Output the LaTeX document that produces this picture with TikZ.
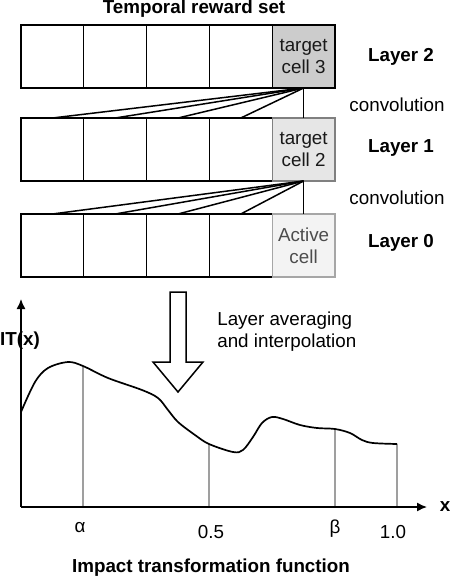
\documentclass[tikz,border=0pt]{standalone}
\usepackage{fontspec}
\setmainfont{Liberation Sans}
\usetikzlibrary{arrows.meta}

\definecolor{cellthree}{HTML}{CCCCCC}
\definecolor{celltwo}{HTML}{E6E6E6}
\definecolor{cellzero}{HTML}{F3F3F3}

\tikzset{
  every node/.style={font=\fontsize{9.4}{11}\selectfont},
  cell/.style={draw, minimum width=31.4pt, minimum height=31.5pt,
    inner sep=0pt, outer sep=0pt, align=center},
  bold/.style={font=\fontsize{9.4}{11}\selectfont\bfseries},
  axis/.style={line width=0.7pt, -{Latex[length=5pt,width=4.5pt]}},
  tickline/.style={draw=gray!75, line width=0.55pt}
}

\begin{document}
\begin{tikzpicture}[x=0.5pt, y=-0.5pt, line width=0.65pt]
  \useasboundingbox (0,0) rectangle (450,580);

  % reward cells
  \node[bold] (title) at (194,9) {Temporal reward set};
  \foreach \i/\cx in {1/52.4,2/115.2,3/178,4/240.8}{
    \node[cell] (c2\i) at (\cx,56.5) {};
    \node[cell] (c1\i) at (\cx,149.5) {};
    \node[cell] (c0\i) at (\cx,245.5) {};
  }
  \node[cell, fill=cellthree, text=black!90] (c25) at (303.6,56.5) {target\\cell 3};
  \node[cell, draw=gray!100, fill=celltwo, text=black!90] (c15) at (303.6,149.5) {target\\cell 2};
  \node[cell, draw=gray!70, fill=cellzero, text=black!70] (c05) at (303.6,245.5) {Active\\cell};
  \foreach \i in {1,...,5}{
    \draw[line width=0.75pt] (c25.south) -- (c1\i.north);
    \draw[line width=0.75pt] (c15.south) -- (c0\i.north);
  }

  \node[bold] (l2) at (401,57) {Layer 2};
  \node (cv2) at (397,105) {convolution};
  \node[bold] (l1) at (401,148) {Layer 1};
  \node (cv1) at (397,198) {convolution};
  \node[bold] (l0) at (401,243) {Layer 0};

  % averaging arrow
  \draw[line width=0.75pt] (170,292) -- (186,292) -- (186,362) -- (203,362)
    -- (178,392) -- (153,362) -- (170,362) -- cycle;
  \node[anchor=west, align=left] (avg) at (210,332) {Layer averaging\\and interpolation};

  % impact transformation function
  \coordinate (O) at (21,507);
  \coordinate (ytop) at (21,299);
  \coordinate (xend) at (427,507);
  \coordinate (pa) at (83,366);
  \coordinate (ph) at (209,444);
  \coordinate (pb) at (335,429);
  \coordinate (pe) at (397,444);
  \foreach \p in {pa,ph,pb,pe}
    \draw[tickline] (\p) -- (\p |- O);
  \draw[axis] (O) -- (ytop);
  \draw[axis] (O) -- (xend);
  \draw[line width=0.85pt] plot[smooth, tension=0.55] coordinates {
    (21,412) (35,382) (48,368) (68,362) (83,366) (108,378) (142,390)
    (158,398) (168,410) (178,422) (195,435) (209,444) (233,452) (243,450)
    (253,437) (262,423) (272,417) (283,419) (300,425) (317,428) (335,429)
    (350,433) (362,440) (373,443) (397,444)};

  \node[bold] (itx) at (20,341) {IT(x)};
  \node[bold] (xl) at (445,507) {x};
  \node (ta) at (80,528) {α};
  \node (th) at (211,532) {0.5};
  \node (tb) at (335,529) {β};
  \node (te) at (393,532) {1.0};
  \node[bold] (cap) at (211,568) {Impact transformation function};
\end{tikzpicture}
\end{document}
